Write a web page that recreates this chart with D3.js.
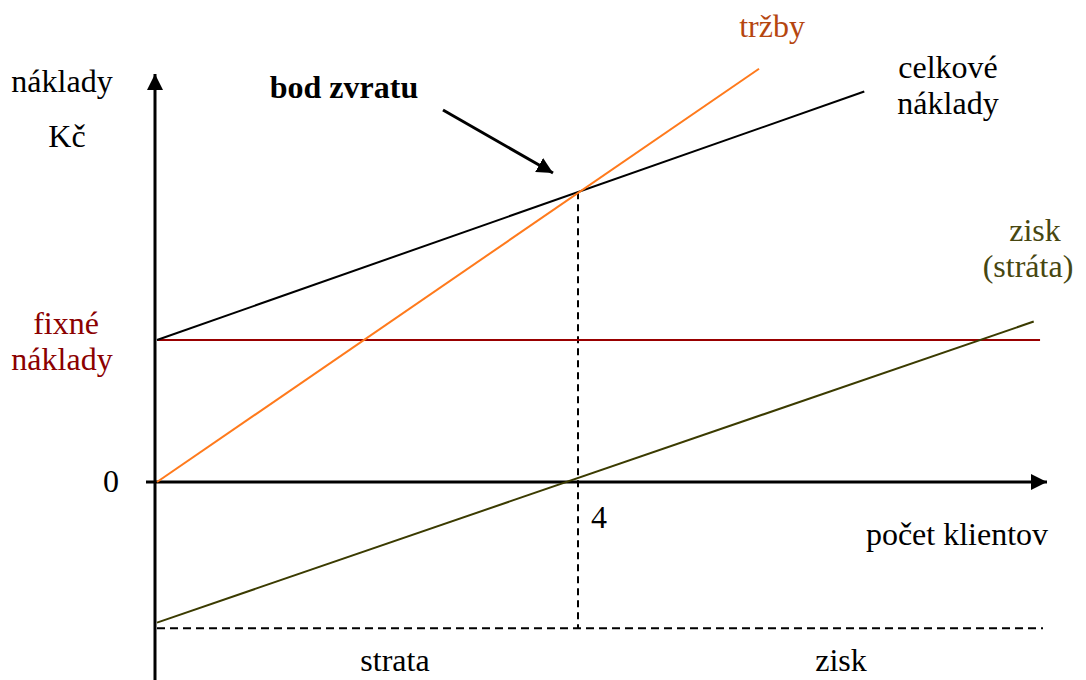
<!DOCTYPE html>
<html>
<head>
<meta charset="utf-8">
<script src="https://cdn.jsdelivr.net/npm/d3@7"></script>
<style>
  body { margin: 0; background: #fff; }
  text { font-family: "Liberation Serif", "Times New Roman", serif; font-size: 32px; }
</style>
</head>
<body>
<div id="chart"></div>
<script>
// pocet klientov (x) a naklady v Kc (y), odcitane z obrazka
var trzby = [[0, 0], [5.72, 291]];
var celkoveNaklady = [[0, 100], [6.72, 275]];
var fixneNaklady = [[0, 100], [8.39, 100]];
var zisk = [[0, -99], [8.33, 113]];
var bodZvratu = [4, 204];
var strataLevel = -103;
var xTicks = ["0", "4"];

var width = 1086;
var height = 680;

var x = d3.scaleLinear().domain([0, 4]).range([157, 578]);
var y = d3.scaleLinear().domain([0, 100]).range([482, 340]);

var svg = d3.select("#chart")
    .append("svg")
    .attr("width", width)
    .attr("height", height);

var defs = svg.append("defs");
defs.append("marker")
    .attr("id", "head")
    .attr("viewBox", "0 0 10 10")
    .attr("refX", 10)
    .attr("refY", 5)
    .attr("markerUnits", "userSpaceOnUse")
    .attr("markerWidth", 16)
    .attr("markerHeight", 16)
    .attr("orient", "auto")
    .append("path")
    .attr("d", "M0,0 L10,5 L0,10 Z")
    .attr("fill", "#000");

var line = d3.line()
    .x(function(d) { return x(d[0]); })
    .y(function(d) { return y(d[1]); });

// osi
svg.append("line")
    .attr("x1", 155).attr("y1", height)
    .attr("x2", 155).attr("y2", 74)
    .attr("stroke", "#000").attr("stroke-width", 3)
    .attr("marker-end", "url(#head)");

svg.append("line")
    .attr("x1", 146).attr("y1", y(0))
    .attr("x2", 1047).attr("y2", y(0))
    .attr("stroke", "#000").attr("stroke-width", 3)
    .attr("marker-end", "url(#head)");

// prerusovane ciary
svg.append("line")
    .attr("x1", x(bodZvratu[0])).attr("y1", y(bodZvratu[1]))
    .attr("x2", x(bodZvratu[0])).attr("y2", y(strataLevel))
    .attr("stroke", "#000").attr("stroke-width", 2)
    .attr("stroke-dasharray", "7,5");

svg.append("line")
    .attr("x1", x(0)).attr("y1", y(strataLevel))
    .attr("x2", 1043).attr("y2", y(strataLevel))
    .attr("stroke", "#000").attr("stroke-width", 2)
    .attr("stroke-dasharray", "8,5");

// ciary
var series = [
    { data: fixneNaklady, color: "#990000" },
    { data: celkoveNaklady, color: "#000000" },
    { data: zisk, color: "#3b3b00" },
    { data: trzby, color: "#ff7a1c" }
];

svg.selectAll("path.serie")
    .data(series)
    .enter()
    .append("path")
    .attr("class", "serie")
    .attr("d", function(d) { return line(d.data); })
    .attr("fill", "none")
    .attr("stroke", function(d) { return d.color; })
    .attr("stroke-width", 2);

// sipka k bodu zvratu
svg.append("line")
    .attr("x1", 443).attr("y1", 110)
    .attr("x2", 553).attr("y2", 173)
    .attr("stroke", "#000").attr("stroke-width", 3)
    .attr("marker-end", "url(#head)");

// popisy
var labels = [
    { t: "náklady", x: 62, y: 92, c: "#000" },
    { t: "Kč", x: 67, y: 147, c: "#000" },
    { t: "fixné", x: 66, y: 334, c: "#8b0000" },
    { t: "náklady", x: 62, y: 370, c: "#8b0000" },
    { t: "tržby", x: 772, y: 37, c: "#b5460f" },
    { t: "celkové", x: 948, y: 78, c: "#000" },
    { t: "náklady", x: 948, y: 114, c: "#000" },
    { t: "zisk", x: 1035, y: 241, c: "#474710" },
    { t: "(stráta)", x: 1028, y: 277, c: "#474710" },
    { t: "počet klientov", x: 957, y: 545, c: "#000" },
    { t: "strata", x: 395, y: 671, c: "#000" },
    { t: "zisk", x: 841, y: 671, c: "#000" }
];

svg.selectAll("text.lbl")
    .data(labels)
    .enter()
    .append("text")
    .attr("class", "lbl")
    .attr("x", function(d) { return d.x; })
    .attr("y", function(d) { return d.y; })
    .attr("text-anchor", "middle")
    .attr("fill", function(d) { return d.c; })
    .text(function(d) { return d.t; });

svg.append("text")
    .attr("x", 344).attr("y", 98)
    .attr("text-anchor", "middle")
    .attr("font-weight", "bold")
    .text("bod zvratu");

svg.append("text")
    .attr("x", x(0) - 46).attr("y", y(0) + 10)
    .attr("text-anchor", "middle")
    .text(xTicks[0]);

svg.append("text")
    .attr("x", x(4) + 21).attr("y", y(0) + 46)
    .attr("text-anchor", "middle")
    .text(xTicks[1]);
</script>
</body>
</html>
